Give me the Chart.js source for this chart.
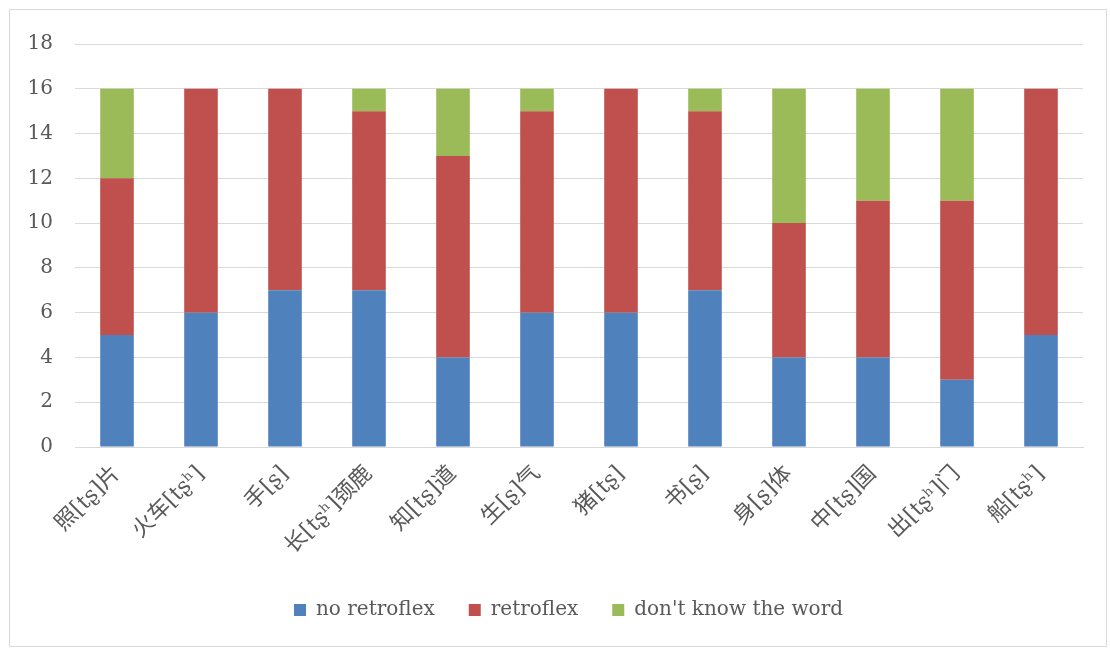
<!DOCTYPE html>
<html>
<head>
<meta charset="utf-8">
<script src="https://cdn.jsdelivr.net/npm/chart.js@4/dist/chart.umd.min.js"></script>
<style>
  html, body { margin: 0; padding: 0; background: #ffffff; }
  #frame {
    position: absolute; left: 9px; top: 9px;
    width: 1098px; height: 638px;
    border: 1px solid #d9d9d9; box-sizing: border-box;
  }
  #frame canvas { display: block; }
</style>
</head>
<body>
<div id="frame"><canvas id="c" width="1096" height="636"></canvas></div>
<script>
// Words tested (initial consonant in brackets)
const categories = [
  '照[tʂ]片', '火车[tʂʰ]', '手[ʂ]', '长[tʂʰ]颈鹿', '知[tʂ]道', '生[ʂ]气',
  '猪[tʂ]', '书[ʂ]', '身[ʂ]体', '中[tʂ]国', '出[tʂʰ]门', '船[tʂʰ]'
];
// Number of speakers per response type
const noRetroflex = [5, 6, 7, 7, 4, 6, 6, 7, 4, 4, 3, 5];
const retroflex   = [7, 10, 9, 8, 9, 9, 10, 8, 6, 7, 8, 11];
const dontKnow    = [4, 0, 0, 1, 3, 1, 0, 1, 6, 5, 5, 0];
const yTicks = [0, 2, 4, 6, 8, 10, 12, 14, 16, 18];

const FONT = '"DejaVu Serif", "Liberation Serif", "Noto Sans CJK SC", serif';
const TEXT = '#595959';

// Centre the legend under the plot area rather than the whole canvas
const legendShift = {
  id: 'legendShift',
  afterLayout(chart) {
    const lg = chart.legend;
    if (lg) { lg.left += 22; lg.right += 22; }
  }
};

new Chart(document.getElementById('c'), {
  type: 'bar',
  data: {
    labels: categories,
    datasets: [
      { label: 'no retroflex', data: noRetroflex, backgroundColor: '#4f81bd' },
      { label: 'retroflex', data: retroflex, backgroundColor: '#c0504d' },
      { label: "don't know the word", data: dontKnow, backgroundColor: '#9bbb59' }
    ]
  },
  plugins: [legendShift],
  options: {
    responsive: false,
    animation: false,
    layout: { padding: { left: 0, right: 23, top: 24, bottom: 16 } },
    datasets: { bar: { barPercentage: 0.4, categoryPercentage: 1.0 } },
    plugins: {
      tooltip: { enabled: false },
      legend: {
        position: 'bottom',
        labels: {
          color: TEXT,
          font: { family: FONT, size: 20 },
          boxWidth: 12, boxHeight: 12,
          padding: 34
        }
      }
    },
    scales: {
      x: {
        stacked: true,
        grid: { display: false },
        border: { color: '#d9d9d9' },
        ticks: {
          color: TEXT,
          font: { family: FONT, size: 22 },
          minRotation: 45, maxRotation: 45,
          autoSkip: false,
          padding: 6
        },
        afterFit: (axis) => { axis.height = 119; }
      },
      y: {
        stacked: true,
        min: 0, max: 18,
        afterBuildTicks: (axis) => { axis.ticks = yTicks.map(v => ({ value: v })); },
        grid: { color: '#d9d9d9', drawTicks: false },
        border: { display: false },
        ticks: {
          color: TEXT,
          font: { family: FONT, size: 20 },
          padding: 22
        },
        afterFit: (axis) => { axis.width = 65; }
      }
    }
  }
});
</script>
</body>
</html>
